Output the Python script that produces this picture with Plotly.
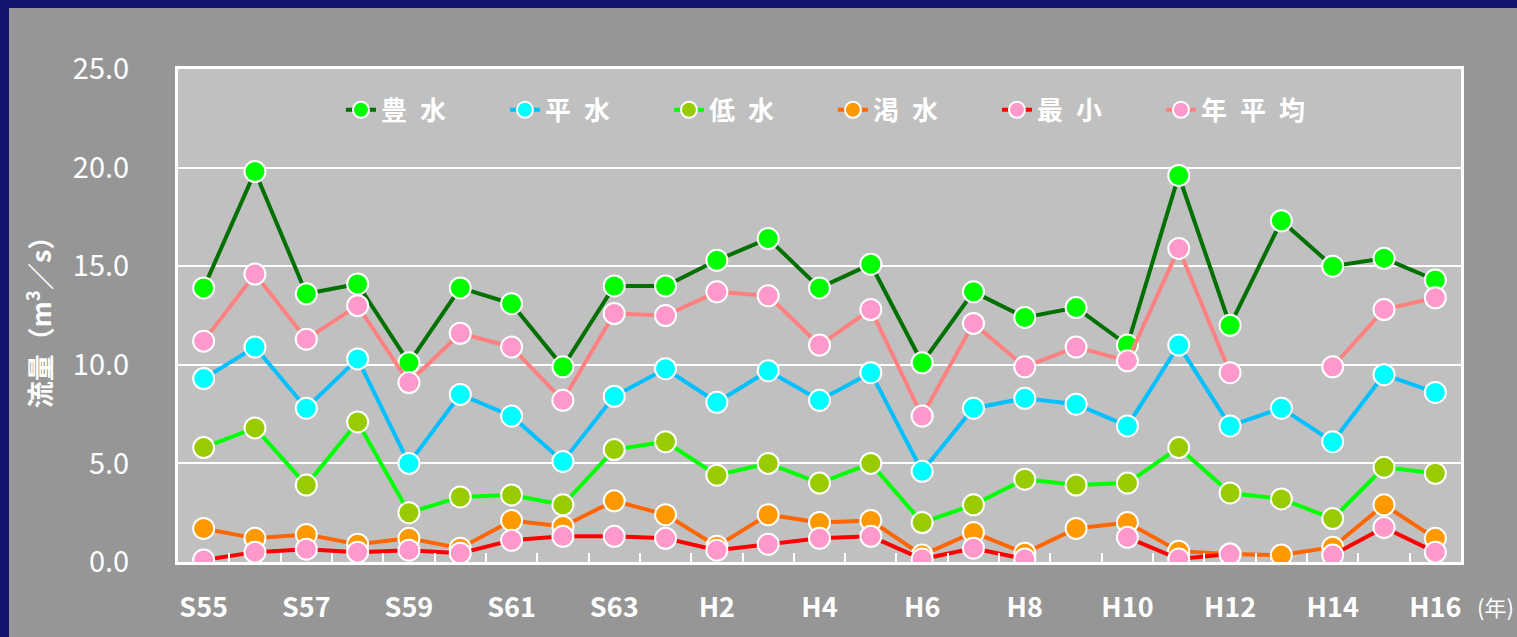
import plotly.graph_objects as go

years = ["S55", "S56", "S57", "S58", "S59", "S60", "S61", "S62", "S63",
         "H1", "H2", "H3", "H4", "H5", "H6", "H7", "H8", "H9", "H10",
         "H11", "H12", "H13", "H14", "H15", "H16"]

houi = [13.9, 19.8, 13.6, 14.1, 10.1, 13.9, 13.1, 9.9, 14.0, 14.0, 15.3, 16.4, 13.9,
        15.1, 10.1, 13.7, 12.4, 12.9, 11.0, 19.6, 12.0, 17.3, 15.0, 15.4, 14.3]
heisui = [9.3, 10.9, 7.8, 10.3, 5.0, 8.5, 7.4, 5.1, 8.4, 9.8, 8.1, 9.7, 8.2,
          9.6, 4.6, 7.8, 8.3, 8.0, 6.9, 11.0, 6.9, 7.8, 6.1, 9.5, 8.6]
teisui = [5.8, 6.8, 3.9, 7.1, 2.5, 3.3, 3.4, 2.9, 5.7, 6.1, 4.4, 5.0, 4.0,
          5.0, 2.0, 2.9, 4.2, 3.9, 4.0, 5.8, 3.5, 3.2, 2.2, 4.8, 4.5]
kassui = [1.7, 1.2, 1.4, 0.9, 1.2, 0.7, 2.1, 1.8, 3.1, 2.4, 0.8, 2.4, 2.0,
          2.1, 0.35, 1.5, 0.45, 1.7, 2.0, 0.55, 0.4, 0.35, 0.75, 2.9, 1.2]
saisho = [0.1, 0.5, 0.65, 0.5, 0.6, 0.45, 1.1, 1.3, 1.3, 1.2, 0.6, 0.9, 1.2,
          1.3, 0.15, 0.7, 0.15, None, 1.25, 0.15, 0.4, None, 0.35, 1.75, 0.5]
nenheikin = [11.2, 14.6, 11.3, 13.0, 9.1, 11.6, 10.9, 8.2, 12.6, 12.5, 13.7, 13.5, 11.0,
             12.8, 7.4, 12.1, 9.9, 10.9, 10.2, 15.9, 9.6, None, 9.9, 12.8, 13.4]

series_names = ["豊\u2002水", "平\u2002水", "低\u2002水", "渇\u2002水", "最\u2002小", "年\u2002平\u2002均"]
series_values = [houi, heisui, teisui, kassui, saisho, nenheikin]
line_colors = ["#007000", "#00c0ff", "#00ff00", "#ff6600", "#ff0000", "#ff8080"]
marker_colors = ["#00ff00", "#00ffff", "#99cc00", "#ff9900", "#ff99cc", "#ff99cc"]

x_idx = list(range(len(years)))
FONT = "Noto Sans CJK JP"

fig = go.Figure()
for name, vals, lc, mc in zip(series_names, series_values, line_colors, marker_colors):
    fig.add_trace(go.Scatter(
        x=x_idx, y=vals, name="<b>" + name + "</b>", mode="lines+markers",
        connectgaps=False,
        line=dict(color=lc, width=4),
        marker=dict(symbol="circle", size=21, color=mc, line=dict(color="white", width=2)),
    ))

fig.update_layout(
    width=1517, height=637,
    margin=dict(l=178, r=56, t=69, b=75),
    paper_bgcolor="#969696",
    plot_bgcolor="#c0c0c0",
    font=dict(family=FONT, color="white"),
    showlegend=True,
    legend=dict(
        orientation="h", x=0.127, y=0.917, xanchor="left", yanchor="middle",
        bgcolor="rgba(0,0,0,0)", font=dict(size=26, color="white", family=FONT),
        entrywidth=119, entrywidthmode="pixels", itemwidth=30,
    ),
    xaxis=dict(
        range=[-0.5, len(years) - 0.5],
        tickmode="array", tickvals=x_idx[::2],
        ticktext=["<b>" + y + "</b>" for y in years[::2]],
        tickfont=dict(size=27, color="white", family=FONT),
        ticks="", ticklabelstandoff=20,
        showgrid=False, zeroline=False,
        showline=True, linecolor="white", linewidth=3, mirror=True,
        minor=dict(tickmode="array", tickvals=[i - 0.5 for i in range(1, len(years))],
                   ticks="inside", ticklen=9, tickwidth=2, tickcolor="white", showgrid=False),
    ),
    yaxis=dict(
        range=[0, 25], dtick=5, tick0=0, tickformat=".1f",
        tickfont=dict(size=29, color="white", family=FONT),
        ticks="", ticklabelstandoff=40,
        showgrid=True, gridcolor="white", gridwidth=2,
        zeroline=False,
        showline=True, linecolor="white", linewidth=3, mirror=True,
        title=dict(text="<b>流量（m<sup>3</sup>／s）</b>", font=dict(size=27, color="white", family=FONT),
                   standoff=14),
    ),
    shapes=[
        dict(type="rect", xref="paper", yref="paper",
             x0=-0.2, x1=-169 / 1283, y0=-0.3, y1=1.3,
             fillcolor="#14156f", line=dict(width=0), layer="above"),
        dict(type="rect", xref="paper", yref="paper",
             x0=-0.2, x1=1.1, y0=(562 - 8) / 493, y1=1.3,
             fillcolor="#14156f", line=dict(width=0), layer="above"),
    ],
    annotations=[
        dict(text="(年)", xref="x", yref="paper", x=len(years) - 1, y=-0.09,
             xshift=60, showarrow=False, yanchor="middle",
             font=dict(size=22, color="white", family=FONT)),
    ],
)

fig.write_html("out.html", config={"displayModeBar": False},
               post_script="document.body.style.margin='0';document.body.style.overflow='hidden';")
